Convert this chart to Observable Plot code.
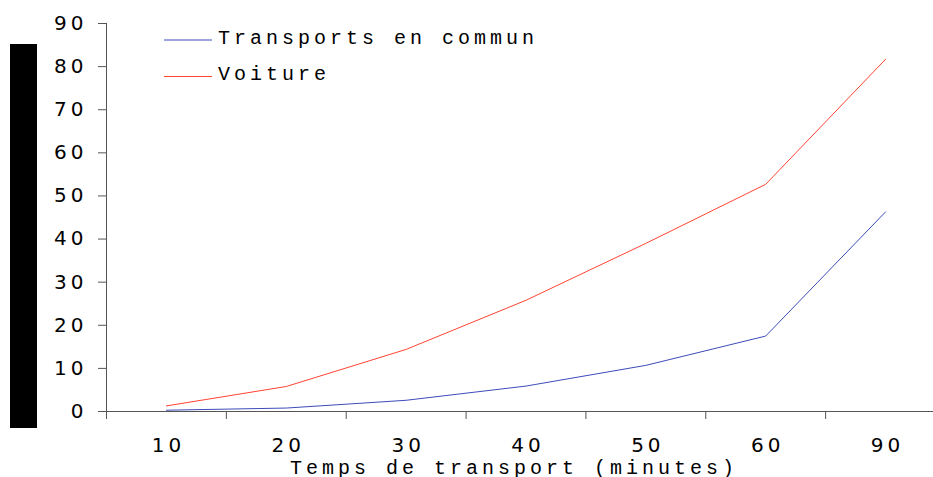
<!DOCTYPE html>
<html><head><meta charset="utf-8">
<script src="https://cdn.jsdelivr.net/npm/d3@7"></script>
<script src="https://cdn.jsdelivr.net/npm/@observablehq/plot@0.6"></script>
<style>
body{margin:0;background:#fff}
#chart{position:relative;width:933px;height:477px;overflow:hidden}
</style>
</head><body><div id="chart"></div>
<script>
const categories = ["10","20","30","40","50","60","90"];
const transports = [0.3, 0.8, 2.6, 5.9, 10.7, 17.5, 46.3];
const voiture = [1.3, 5.8, 14.4, 25.8, 39.0, 52.7, 81.7];
const seriesNames = ["Transports en commun", "Voiture"];
const seriesColors = ["#3d4bbb", "#ff4433"];
const yTicks = d3.range(0, 91, 10);
const xTitle = "Temps de transport (minutes)";

const rows = [];
categories.forEach((c, i) => {
  rows.push({i, cat: c, v: transports[i], s: seriesNames[0]});
  rows.push({i, cat: c, v: voiture[i], s: seriesNames[1]});
});
const bandEdges = d3.range(categories.length).map(i => i - 0.5);
const catIdx = d3.range(categories.length);

const tickFont = "DejaVu Sans";
const monoFont = "Liberation Mono";
const axisColor = "#555";

function blackBar() {
  const g = d3.create("svg:g");
  g.append("rect").attr("x", 10).attr("y", 44).attr("width", 27).attr("height", 384).attr("fill", "#000");
  return g.node();
}
function legend() {
  const g = d3.create("svg:g");
  seriesNames.forEach((n, k) => {
    const y = 40 + k * 36.5;
    g.append("line").attr("x1", 164).attr("x2", 212).attr("y1", y).attr("y2", y)
      .attr("stroke", seriesColors[k]).attr("stroke-width", 1);
    g.append("text").attr("x", 218).attr("y", y + 3.5).text(n)
      .attr("text-anchor", "start")
      .attr("font-family", monoFont).attr("font-size", 20).attr("letter-spacing", "4px").attr("fill", "#000");
  });
  return g.node();
}

const plot = Plot.plot({
  width: 933,
  height: 477,
  marginLeft: 106,
  marginRight: 0,
  marginTop: 23,
  marginBottom: 66,
  style: {fontFamily: tickFont, fontSize: "20px", color: "#000", background: "#fff", overflow: "visible"},
  x: {type: "linear", domain: [-0.5, 6.4]},
  y: {domain: [0, 90]},
  color: {domain: seriesNames, range: seriesColors},
  marks: [
    blackBar,
    Plot.axisY({ticks: yTicks, tickSize: 8, tickPadding: 11, stroke: axisColor, label: null, fill: "#000"}),
    Plot.ruleX([-0.5], {y1: 0, y2: 90, stroke: axisColor}),
    Plot.ruleY([0], {stroke: axisColor}),
    Plot.axisX({ticks: bandEdges, tickSize: 8, tickFormat: () => "", stroke: axisColor, label: null}),
    Plot.axisX({ticks: catIdx, tickSize: 0, tickPadding: 26, tickFormat: i => categories[i], fill: "#000",
      label: xTitle, labelAnchor: "center", labelArrow: "none", labelOffset: 62}),
    Plot.line(rows, {x: "i", y: "v", z: "s", stroke: "s", strokeWidth: 1}),
    legend
  ]
});
const sel = d3.select(plot);
sel.selectAll("g[aria-label='y-axis tick label'] text, g[aria-label='x-axis tick label'] text")
  .attr("letter-spacing", "4px");
sel.selectAll("g[aria-label='x-axis tick label'] text").attr("dx", "2px");
sel.selectAll("g[aria-label='x-axis label'] text")
  .attr("font-family", monoFont).attr("font-size", 20).attr("letter-spacing", "4px").attr("dx", "-6px");
document.getElementById("chart").appendChild(plot);
</script>
</body></html>
